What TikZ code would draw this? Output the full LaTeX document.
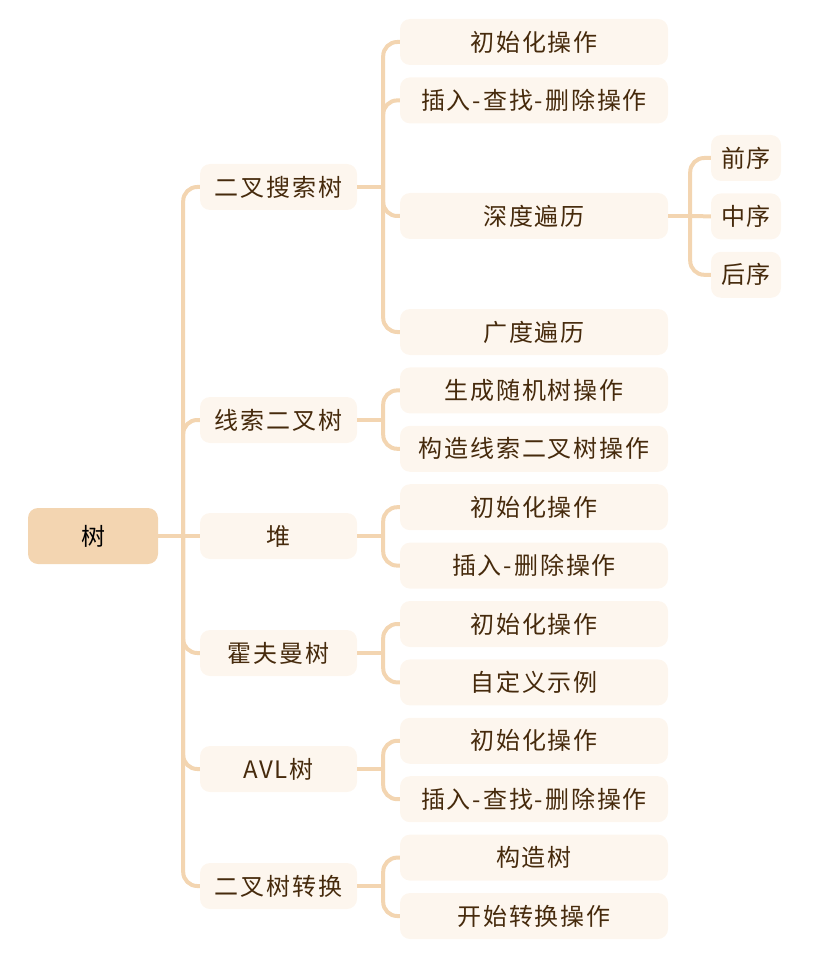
\documentclass[tikz,border=0pt]{standalone}
\usepackage{fontspec}
\setmainfont{Noto Sans CJK SC}[LetterSpace=8]
\usetikzlibrary{positioning}
\definecolor{RootFill}{RGB}{243,213,177}
\definecolor{TopicFill}{RGB}{253,246,238}
\definecolor{LinkTan}{RGB}{243,213,177}
\definecolor{TextBrown}{RGB}{70,42,12}
\tikzset{
  rootbox/.style={fill=RootFill,rounded corners=10pt,inner sep=0pt,
    minimum width=130pt,minimum height=56pt,text=black,
    font=\fontsize{24}{28}\selectfont},
  topicbox/.style={fill=TopicFill,rounded corners=10pt,inner sep=0pt,
    minimum width=157pt,minimum height=46pt,text=TextBrown,
    font=\fontsize{24}{28}\selectfont},
  subbox/.style={topicbox,minimum width=268pt},
  leafbox/.style={topicbox,minimum width=70pt},
  link/.style={draw=LinkTan,line width=4pt,rounded corners=14pt},
}
\begin{document}
\begin{tikzpicture}[x=1pt,y=-1pt,node distance=12pt]
  \useasboundingbox (0,0) rectangle (813,968);
  % root and first level
  \node[rootbox] (root) at (93,536) {树};
  \node[topicbox] (bst)  at (278.5,187) {二叉搜索树};
  \node[topicbox] (thr)  at (278.5,420) {线索二叉树};
  \node[topicbox] (heap) at (278.5,536) {堆};
  \node[topicbox] (huff) at (278.5,653) {霍夫曼树};
  \node[topicbox] (avl)  at (278.5,769) {AVL树};
  \node[topicbox] (conv) at (278.5,886) {二叉树转换};
  % second level
  \node[subbox] (bstinit) at (534,42) {初始化操作};
  \node[subbox,below=of bstinit] (bstops) {插入-查找-删除操作};
  \node[subbox] (dfs) at (534,216) {深度遍历};
  \node[subbox] (bfs) at (534,332) {广度遍历};
  \node[subbox,below=of bfs]     (thrgen)   {生成随机树操作};
  \node[subbox,below=of thrgen]  (thrbuild) {构造线索二叉树操作};
  \node[subbox,below=of thrbuild](heapinit) {初始化操作};
  \node[subbox,below=of heapinit](heapops)  {插入-删除操作};
  \node[subbox,below=of heapops] (huffinit) {初始化操作};
  \node[subbox,below=of huffinit](huffdemo) {自定义示例};
  \node[subbox,below=of huffdemo](avlinit)  {初始化操作};
  \node[subbox,below=of avlinit] (avlops)   {插入-查找-删除操作};
  \node[subbox,below=of avlops]  (convbuild){构造树};
  \node[subbox,below=of convbuild](convrun) {开始转换操作};
  % third level
  \node[leafbox] (pre) at (746,158) {前序};
  \node[leafbox,below=of pre] (ino)  {中序};
  \node[leafbox,below=of ino] (post) {后序};
  % forks
  \coordinate[right=25pt of root] (rootfork);
  \coordinate[right=26pt of bst]  (bstfork);
  \coordinate[right=26pt of thr]  (thrfork);
  \coordinate[right=26pt of heap] (heapfork);
  \coordinate[right=26pt of huff] (hufffork);
  \coordinate[right=26pt of avl]  (avlfork);
  \coordinate[right=26pt of conv] (convfork);
  \coordinate[right=22pt of dfs]  (dfsfork);
  % connectors
  \draw[link] (root.east) -- (rootfork);
  \draw[link] (rootfork) |- (bst.west);
  \draw[link] (rootfork) |- (thr.west);
  \draw[link] (rootfork) -- (heap.west);
  \draw[link] (rootfork) |- (huff.west);
  \draw[link] (rootfork) |- (avl.west);
  \draw[link] (rootfork) |- (conv.west);
  \draw[link] (bst.east) -- (bstfork);
  \draw[link] (bstfork) |- (bstinit.west);
  \draw[link] (bstfork) |- (bstops.west);
  \draw[link] (bstfork) |- (dfs.west);
  \draw[link] (bstfork) |- (bfs.west);
  \draw[link] (thr.east) -- (thrfork);
  \draw[link] (thrfork) |- (thrgen.west);
  \draw[link] (thrfork) |- (thrbuild.west);
  \draw[link] (heap.east) -- (heapfork);
  \draw[link] (heapfork) |- (heapinit.west);
  \draw[link] (heapfork) |- (heapops.west);
  \draw[link] (huff.east) -- (hufffork);
  \draw[link] (hufffork) |- (huffinit.west);
  \draw[link] (hufffork) |- (huffdemo.west);
  \draw[link] (avl.east) -- (avlfork);
  \draw[link] (avlfork) |- (avlinit.west);
  \draw[link] (avlfork) |- (avlops.west);
  \draw[link] (conv.east) -- (convfork);
  \draw[link] (convfork) |- (convbuild.west);
  \draw[link] (convfork) |- (convrun.west);
  \draw[link] (dfs.east) -- (dfsfork);
  \draw[link] (dfsfork) |- (pre.west);
  \draw[link] (dfsfork) -- (ino.west);
  \draw[link] (dfsfork) |- (post.west);
\end{tikzpicture}
\end{document}
